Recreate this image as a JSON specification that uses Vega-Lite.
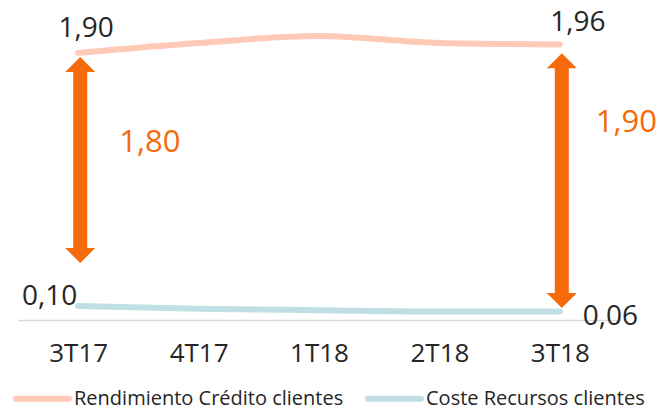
{
  "$schema": "https://vega.github.io/schema/vega-lite/v6.json",
  "width": 602,
  "height": 320,
  "autosize": "none",
  "padding": {"left": 18, "top": 0, "right": 50, "bottom": 92},
  "config": {
    "view": {"stroke": null},
    "font": "Open Sans",
    "locale": {"number": {"decimal": ",", "thousands": ".", "grouping": [3], "currency": ["", " €"]}}
  },
  "datasets": {
    "series": [
      {"q": "3T17", "serie": "Rendimiento Crédito clientes", "v": 1.90},
      {"q": "4T17", "serie": "Rendimiento Crédito clientes", "v": 1.97},
      {"q": "1T18", "serie": "Rendimiento Crédito clientes", "v": 2.02},
      {"q": "2T18", "serie": "Rendimiento Crédito clientes", "v": 1.97},
      {"q": "3T18", "serie": "Rendimiento Crédito clientes", "v": 1.96},
      {"q": "3T17", "serie": "Coste Recursos clientes", "v": 0.10},
      {"q": "4T17", "serie": "Coste Recursos clientes", "v": 0.08},
      {"q": "1T18", "serie": "Coste Recursos clientes", "v": 0.07},
      {"q": "2T18", "serie": "Coste Recursos clientes", "v": 0.06},
      {"q": "3T18", "serie": "Coste Recursos clientes", "v": 0.06}
    ],
    "arrows": [
      {"q": "3T17", "top": 1.871, "bottom": 0.405, "spread": 1.80},
      {"q": "3T18", "top": 1.897, "bottom": 0.085, "spread": 1.90}
    ]
  },
  "layer": [
    {
      "data": {"name": "series"},
      "mark": {"type": "line", "interpolate": "monotone", "strokeWidth": 6, "strokeCap": "round"},
      "encoding": {
        "x": {
          "field": "q", "type": "ordinal",
          "scale": {"type": "point", "domain": ["3T17", "4T17", "1T18", "2T18", "3T18"], "padding": 0.5},
          "axis": {
            "title": null, "labelAngle": 0, "ticks": false, "grid": false,
            "domainColor": "#D9D9D9", "domainWidth": 1.5,
            "labelFont": "Open Sans", "labelFontSize": 26, "labelColor": "#262626", "labelPadding": 20
          }
        },
        "y": {
          "field": "v", "type": "quantitative",
          "scale": {"domain": [0, 2.276], "nice": false, "zero": true},
          "axis": null
        },
        "color": {
          "field": "serie", "type": "nominal",
          "scale": {"domain": ["Rendimiento Crédito clientes", "Coste Recursos clientes"], "range": ["#FFC9B6", "#BFDFE4"]},
          "legend": {
            "orient": "none", "legendX": -5, "legendY": 369, "direction": "horizontal", "columns": 2,
            "title": null, "symbolType": "stroke", "symbolSize": 2809, "symbolStrokeWidth": 6,
            "labelFont": "Open Sans", "labelFontSize": 20, "labelColor": "#262626", "labelOffset": 2,
            "columnPadding": 12, "padding": 0, "labelLimit": 400,
            "encode": {"symbols": {"update": {"strokeCap": {"value": "round"}}}}
          }
        }
      }
    },
    {
      "data": {"name": "arrows"},
      "mark": {"type": "rule", "strokeWidth": 14, "color": "#F56A0A", "xOffset": 2, "yOffset": 14, "y2Offset": -14},
      "encoding": {
        "x": {"field": "q", "type": "ordinal"},
        "y": {"field": "top", "type": "quantitative"},
        "y2": {"field": "bottom"}
      }
    },
    {
      "data": {"name": "arrows"},
      "mark": {"type": "point", "shape": "M-1,1L1,1L0,0Z", "size": 900, "filled": true, "opacity": 1, "color": "#F56A0A", "strokeWidth": 0, "xOffset": 2},
      "encoding": {
        "x": {"field": "q", "type": "ordinal"},
        "y": {"field": "top", "type": "quantitative"}
      }
    },
    {
      "data": {"name": "arrows"},
      "mark": {"type": "point", "shape": "M-1,-1L1,-1L0,0Z", "size": 900, "filled": true, "opacity": 1, "color": "#F56A0A", "strokeWidth": 0, "xOffset": 2},
      "encoding": {
        "x": {"field": "q", "type": "ordinal"},
        "y": {"field": "bottom", "type": "quantitative"}
      }
    },
    {
      "data": {"name": "arrows"},
      "transform": [{"filter": "datum.q === '3T17'"}],
      "mark": {"type": "text", "align": "left", "baseline": "alphabetic", "dx": 41, "dy": 95, "fontSize": 31, "color": "#F56A0A", "font": "Open Sans"},
      "encoding": {
        "x": {"field": "q", "type": "ordinal"},
        "y": {"field": "top", "type": "quantitative"},
        "text": {"field": "spread", "type": "quantitative", "format": ".2f"}
      }
    },
    {
      "data": {"name": "arrows"},
      "transform": [{"filter": "datum.q === '3T18'"}],
      "mark": {"type": "text", "align": "left", "baseline": "alphabetic", "dx": 36, "dy": 79, "fontSize": 31, "color": "#F56A0A", "font": "Open Sans"},
      "encoding": {
        "x": {"field": "q", "type": "ordinal"},
        "y": {"field": "top", "type": "quantitative"},
        "text": {"field": "spread", "type": "quantitative", "format": ".2f"}
      }
    },
    {
      "data": {"name": "series"},
      "transform": [{"filter": "datum.q === '3T17' && datum.serie === 'Rendimiento Crédito clientes'"}],
      "mark": {"type": "text", "align": "center", "baseline": "alphabetic", "dx": 8, "dy": -16, "fontSize": 28, "color": "#262626", "font": "Open Sans"},
      "encoding": {
        "x": {"field": "q", "type": "ordinal"},
        "y": {"field": "v", "type": "quantitative"},
        "text": {"field": "v", "type": "quantitative", "format": ".2f"}
      }
    },
    {
      "data": {"name": "series"},
      "transform": [{"filter": "datum.q === '3T18' && datum.serie === 'Rendimiento Crédito clientes'"}],
      "mark": {"type": "text", "align": "center", "baseline": "alphabetic", "dx": 18, "dy": -13, "fontSize": 28, "color": "#262626", "font": "Open Sans"},
      "encoding": {
        "x": {"field": "q", "type": "ordinal"},
        "y": {"field": "v", "type": "quantitative"},
        "text": {"field": "v", "type": "quantitative", "format": ".2f"}
      }
    },
    {
      "data": {"name": "series"},
      "transform": [{"filter": "datum.q === '3T17' && datum.serie === 'Coste Recursos clientes'"}],
      "mark": {"type": "text", "align": "right", "baseline": "alphabetic", "dx": -1, "dy": -1, "fontSize": 28, "color": "#262626", "font": "Open Sans"},
      "encoding": {
        "x": {"field": "q", "type": "ordinal"},
        "y": {"field": "v", "type": "quantitative"},
        "text": {"field": "v", "type": "quantitative", "format": ".2f"}
      }
    },
    {
      "data": {"name": "series"},
      "transform": [{"filter": "datum.q === '3T18' && datum.serie === 'Coste Recursos clientes'"}],
      "mark": {"type": "text", "align": "left", "baseline": "alphabetic", "dx": 23, "dy": 13, "fontSize": 28, "color": "#262626", "font": "Open Sans"},
      "encoding": {
        "x": {"field": "q", "type": "ordinal"},
        "y": {"field": "v", "type": "quantitative"},
        "text": {"field": "v", "type": "quantitative", "format": ".2f"}
      }
    }
  ]
}
